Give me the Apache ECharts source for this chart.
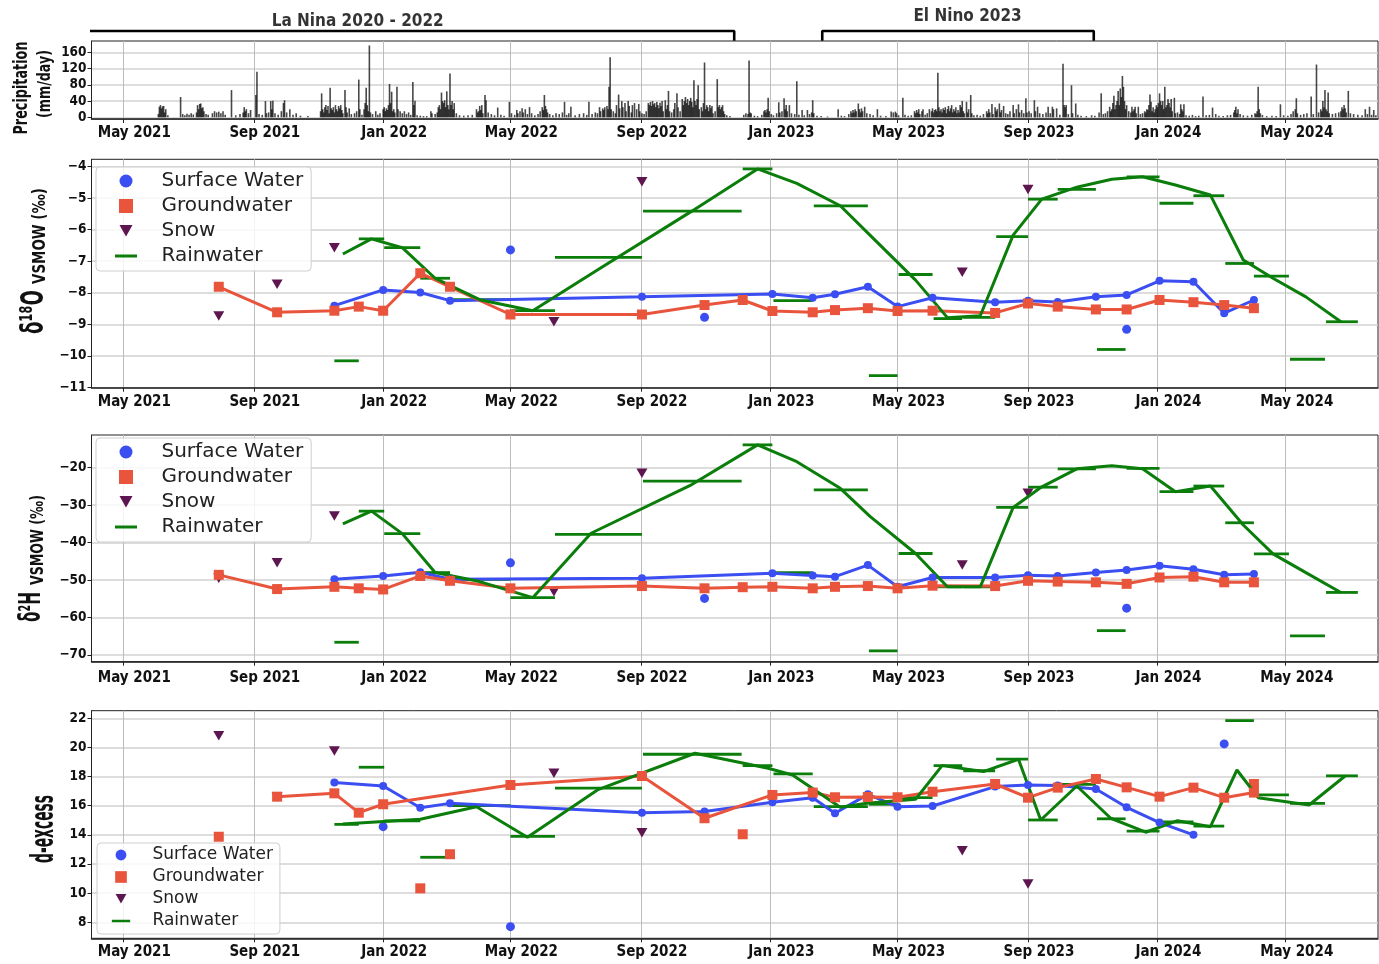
<!DOCTYPE html>
<html>
<head>
<meta charset="utf-8">
<title>Precipitation and water isotopes 2021-2024</title>
<script src="https://cdn.jsdelivr.net/npm/echarts@6/dist/echarts.min.js"></script>
<style>
  html, body { margin: 0; padding: 0; background: #ffffff; }
  #chart { width: 1379px; height: 964px; }
</style>
</head>
<body>
<div id="chart"></div>
<script>
// ---------------------------------------------------------------- axes
const xStart = '2021-04-01';
const xEnd = '2024-07-27';
const xTicks = ['2021-05-01', '2021-09-01', '2022-01-01', '2022-05-01', '2022-09-01',
                '2023-01-01', '2023-05-01', '2023-09-01', '2024-01-01', '2024-05-01'];
const precipTicks = [0, 40, 80, 120, 160];
const d18Ticks = [-11, -10, -9, -8, -7, -6, -5, -4];
const d2Ticks = [-70, -60, -50, -40, -30, -20];
const dxTicks = [8, 10, 12, 14, 16, 18, 20, 22];

// ---------------------------------------------------------------- ENSO periods
const laNinaPeriod = ['2020-09-01', '2022-11-28'];
const laNinaLabel = ['2021-12-08', 'La Nina 2020 - 2022'];
const elNinoPeriod = ['2023-02-19', '2023-11-02'];
const elNinoLabel = ['2023-07-06', 'El Nino 2023'];

// ---------------------------------------------------------------- daily precipitation (mm/day)
const precip = [
  ['2021-06-03', 8], ['2021-06-04', 26], ['2021-06-05', 30], ['2021-06-06', 22], ['2021-06-07', 27], ['2021-06-08', 28],
  ['2021-06-09', 12], ['2021-06-10', 20], ['2021-06-12', 5], ['2021-06-24', 50], ['2021-06-26', 8], ['2021-06-28', 5],
  ['2021-06-30', 9], ['2021-07-02', 6], ['2021-07-04', 10], ['2021-07-06', 7], ['2021-07-09', 12], ['2021-07-10', 30],
  ['2021-07-11', 20], ['2021-07-12', 33], ['2021-07-13', 34], ['2021-07-14', 22], ['2021-07-15', 25], ['2021-07-16', 15],
  ['2021-07-18', 8], ['2021-07-20', 6], ['2021-07-24', 10], ['2021-07-26', 15], ['2021-07-28', 12], ['2021-07-30', 14],
  ['2021-08-01', 10], ['2021-08-03', 15], ['2021-08-05', 6], ['2021-08-11', 67], ['2021-08-15', 5], ['2021-08-19', 8],
  ['2021-08-22', 12], ['2021-08-23', 25], ['2021-08-24', 15], ['2021-08-25', 20], ['2021-08-27', 10], ['2021-08-29', 18],
  ['2021-09-03', 55], ['2021-09-04', 112], ['2021-09-06', 8], ['2021-09-09', 6], ['2021-09-12', 40], ['2021-09-13', 10],
  ['2021-09-15', 12], ['2021-09-17', 40], ['2021-09-18', 20], ['2021-09-19', 41], ['2021-09-21', 10], ['2021-09-24', 6],
  ['2021-09-27', 15], ['2021-09-29', 35], ['2021-09-30', 42], ['2021-10-02', 12], ['2021-10-05', 20], ['2021-10-08', 6],
  ['2021-10-11', 10], ['2021-10-15', 4], ['2021-10-22', 3], ['2021-11-03', 15], ['2021-11-04', 59], ['2021-11-05', 20],
  ['2021-11-06', 12], ['2021-11-07', 25], ['2021-11-08', 30], ['2021-11-09', 18], ['2021-11-10', 28], ['2021-11-11', 10],
  ['2021-11-12', 73], ['2021-11-13', 22], ['2021-11-14', 18], ['2021-11-15', 25], ['2021-11-16', 12], ['2021-11-17', 30],
  ['2021-11-18', 20], ['2021-11-19', 15], ['2021-11-20', 28], ['2021-11-21', 22], ['2021-11-22', 30], ['2021-11-23', 18],
  ['2021-11-24', 10], ['2021-11-26', 67], ['2021-11-27', 25], ['2021-11-28', 12], ['2021-11-30', 22], ['2021-12-02', 8],
  ['2021-12-05', 10], ['2021-12-07', 15], ['2021-12-09', 93], ['2021-12-10', 20], ['2021-12-12', 6], ['2021-12-14', 20],
  ['2021-12-15', 35], ['2021-12-16', 73], ['2021-12-17', 30], ['2021-12-18', 15], ['2021-12-19', 177], ['2021-12-20', 12],
  ['2021-12-22', 8], ['2021-12-25', 15], ['2021-12-27', 6], ['2021-12-29', 10],
  ['2022-01-01', 20], ['2022-01-02', 25], ['2022-01-03', 15], ['2022-01-04', 22], ['2022-01-05', 18], ['2022-01-06', 30],
  ['2022-01-07', 82], ['2022-01-08', 35], ['2022-01-09', 63], ['2022-01-10', 15], ['2022-01-11', 20], ['2022-01-12', 12],
  ['2022-01-14', 75], ['2022-01-15', 20], ['2022-01-17', 15], ['2022-01-19', 10], ['2022-01-21', 15], ['2022-01-23', 8],
  ['2022-01-25', 12], ['2022-01-27', 6], ['2022-01-29', 87], ['2022-01-30', 30], ['2022-01-31', 41], ['2022-02-02', 5],
  ['2022-02-05', 4], ['2022-02-08', 3], ['2022-02-11', 3], ['2022-02-15', 15], ['2022-02-16', 10], ['2022-02-19', 8],
  ['2022-02-21', 12], ['2022-02-22', 25], ['2022-02-23', 30], ['2022-02-24', 20], ['2022-02-25', 61], ['2022-02-26', 40],
  ['2022-02-27', 35], ['2022-02-28', 42], ['2022-03-01', 25], ['2022-03-02', 64], ['2022-03-03', 30], ['2022-03-04', 20],
  ['2022-03-05', 108], ['2022-03-06', 30], ['2022-03-07', 40], ['2022-03-08', 20], ['2022-03-09', 35], ['2022-03-11', 10],
  ['2022-03-14', 5], ['2022-03-18', 4], ['2022-03-22', 5], ['2022-03-26', 6], ['2022-03-30', 20], ['2022-03-31', 12],
  ['2022-04-01', 15], ['2022-04-02', 28], ['2022-04-03', 18], ['2022-04-04', 30], ['2022-04-05', 10], ['2022-04-07', 55],
  ['2022-04-08', 42], ['2022-04-10', 12], ['2022-04-13', 8], ['2022-04-16', 5], ['2022-04-19', 24], ['2022-04-22', 6],
  ['2022-04-25', 4], ['2022-04-30', 38], ['2022-05-02', 10], ['2022-05-05', 6], ['2022-05-07', 18], ['2022-05-08', 10],
  ['2022-05-10', 15], ['2022-05-12', 22], ['2022-05-13', 12], ['2022-05-15', 20], ['2022-05-17', 8], ['2022-05-19', 25],
  ['2022-05-21', 10], ['2022-05-24', 5], ['2022-05-27', 8], ['2022-05-29', 15], ['2022-05-31', 25], ['2022-06-01', 18],
  ['2022-06-02', 55], ['2022-06-03', 28], ['2022-06-04', 20], ['2022-06-05', 12], ['2022-06-07', 8], ['2022-06-10', 5],
  ['2022-06-13', 10], ['2022-06-16', 8], ['2022-06-19', 12], ['2022-06-21', 38], ['2022-06-23', 6], ['2022-06-25', 10],
  ['2022-06-27', 26], ['2022-07-01', 5], ['2022-07-05', 8], ['2022-07-09', 10], ['2022-07-12', 6], ['2022-07-14', 38],
  ['2022-07-17', 8], ['2022-07-20', 12], ['2022-07-22', 10], ['2022-07-24', 25], ['2022-07-25', 15], ['2022-07-27', 22],
  ['2022-07-28', 18], ['2022-07-29', 25], ['2022-07-31', 28], ['2022-08-01', 20], ['2022-08-02', 75], ['2022-08-03', 148],
  ['2022-08-04', 20], ['2022-08-06', 15], ['2022-08-08', 10], ['2022-08-09', 30], ['2022-08-11', 56], ['2022-08-12', 22],
  ['2022-08-14', 40], ['2022-08-15', 25], ['2022-08-17', 35], ['2022-08-18', 15], ['2022-08-20', 40], ['2022-08-21', 28],
  ['2022-08-23', 12], ['2022-08-24', 30], ['2022-08-26', 35], ['2022-08-28', 20], ['2022-08-30', 33], ['2022-08-31', 15],
  ['2022-09-02', 10], ['2022-09-04', 8], ['2022-09-06', 15], ['2022-09-08', 35], ['2022-09-09', 30], ['2022-09-10', 38],
  ['2022-09-11', 28], ['2022-09-12', 40], ['2022-09-13', 32], ['2022-09-14', 35], ['2022-09-15', 25], ['2022-09-16', 38],
  ['2022-09-17', 30], ['2022-09-18', 22], ['2022-09-19', 36], ['2022-09-20', 28], ['2022-09-21', 40], ['2022-09-22', 15],
  ['2022-09-24', 42], ['2022-09-25', 20], ['2022-09-26', 30], ['2022-09-27', 65], ['2022-09-28', 15], ['2022-09-30', 12],
  ['2022-10-02', 20], ['2022-10-03', 35], ['2022-10-05', 59], ['2022-10-06', 25], ['2022-10-08', 15], ['2022-10-10', 45],
  ['2022-10-11', 30], ['2022-10-12', 40], ['2022-10-13', 50], ['2022-10-14', 35], ['2022-10-15', 45], ['2022-10-16', 30],
  ['2022-10-17', 40], ['2022-10-18', 48], ['2022-10-19', 38], ['2022-10-20', 25], ['2022-10-21', 91], ['2022-10-22', 40],
  ['2022-10-23', 30], ['2022-10-24', 45], ['2022-10-25', 79], ['2022-10-26', 20], ['2022-10-28', 25], ['2022-10-29', 15],
  ['2022-10-30', 35], ['2022-10-31', 135], ['2022-11-01', 20], ['2022-11-02', 30], ['2022-11-03', 25], ['2022-11-04', 15],
  ['2022-11-05', 30], ['2022-11-06', 22], ['2022-11-07', 28], ['2022-11-08', 10], ['2022-11-10', 15], ['2022-11-12', 94],
  ['2022-11-13', 25], ['2022-11-14', 30], ['2022-11-15', 20], ['2022-11-16', 25], ['2022-11-17', 30], ['2022-11-18', 15],
  ['2022-11-19', 8], ['2022-11-21', 5], ['2022-11-24', 3], ['2022-12-07', 6], ['2022-12-09', 10], ['2022-12-11', 8],
  ['2022-12-12', 140], ['2022-12-13', 12], ['2022-12-14', 10], ['2022-12-17', 4], ['2022-12-20', 3], ['2022-12-24', 6],
  ['2022-12-26', 15], ['2022-12-27', 18], ['2022-12-28', 12], ['2022-12-29', 20], ['2022-12-30', 48], ['2022-12-31', 15],
  ['2023-01-02', 8], ['2023-01-04', 5], ['2023-01-07', 10], ['2023-01-09', 37], ['2023-01-10', 12], ['2023-01-12', 15],
  ['2023-01-14', 47], ['2023-01-15', 20], ['2023-01-16', 30], ['2023-01-17', 15], ['2023-01-19', 30], ['2023-01-21', 10],
  ['2023-01-24', 8], ['2023-01-26', 89], ['2023-01-28', 6], ['2023-01-31', 18], ['2023-02-02', 5], ['2023-02-05', 18],
  ['2023-02-07', 8], ['2023-02-09', 12], ['2023-02-10', 42], ['2023-02-11', 10], ['2023-02-14', 4], ['2023-02-18', 3],
  ['2023-02-24', 2], ['2023-03-06', 20], ['2023-03-09', 4], ['2023-03-12', 3], ['2023-03-16', 8], ['2023-03-18', 15],
  ['2023-03-19', 10], ['2023-03-20', 18], ['2023-03-21', 12], ['2023-03-22', 20], ['2023-03-23', 15], ['2023-03-25', 34],
  ['2023-03-26', 20], ['2023-03-27', 12], ['2023-03-28', 22], ['2023-03-29', 15], ['2023-03-31', 26], ['2023-04-02', 10],
  ['2023-04-05', 8], ['2023-04-08', 5], ['2023-04-12', 20], ['2023-04-15', 4], ['2023-04-20', 3], ['2023-04-25', 14],
  ['2023-04-27', 12], ['2023-04-29', 14], ['2023-04-30', 10], ['2023-05-02', 5], ['2023-05-06', 48], ['2023-05-08', 6],
  ['2023-05-11', 4], ['2023-05-14', 5], ['2023-05-17', 15], ['2023-05-18', 10], ['2023-05-19', 18], ['2023-05-20', 12],
  ['2023-05-21', 20], ['2023-05-22', 8], ['2023-05-24', 15], ['2023-05-25', 20], ['2023-05-27', 6], ['2023-05-29', 10],
  ['2023-05-31', 20], ['2023-06-02', 15], ['2023-06-03', 22], ['2023-06-04', 12], ['2023-06-05', 18], ['2023-06-06', 20],
  ['2023-06-07', 15], ['2023-06-08', 110], ['2023-06-09', 25], ['2023-06-10', 15], ['2023-06-11', 20], ['2023-06-12', 12],
  ['2023-06-13', 22], ['2023-06-14', 18], ['2023-06-15', 25], ['2023-06-16', 10], ['2023-06-17', 20], ['2023-06-18', 28],
  ['2023-06-19', 15], ['2023-06-20', 22], ['2023-06-21', 30], ['2023-06-22', 12], ['2023-06-23', 20], ['2023-06-24', 15],
  ['2023-06-25', 25], ['2023-06-26', 10], ['2023-06-27', 18], ['2023-06-28', 12], ['2023-06-29', 30], ['2023-06-30', 25],
  ['2023-07-01', 40], ['2023-07-02', 15], ['2023-07-03', 10], ['2023-07-05', 38], ['2023-07-06', 12], ['2023-07-07', 20],
  ['2023-07-09', 55], ['2023-07-10', 10], ['2023-07-12', 5], ['2023-07-15', 6], ['2023-07-18', 4], ['2023-07-21', 8],
  ['2023-07-24', 15], ['2023-07-25', 10], ['2023-07-26', 20], ['2023-07-27', 12], ['2023-07-29', 33], ['2023-07-30', 8],
  ['2023-08-01', 25], ['2023-08-02', 15], ['2023-08-03', 20], ['2023-08-05', 34], ['2023-08-06', 12], ['2023-08-07', 18],
  ['2023-08-09', 28], ['2023-08-11', 10], ['2023-08-13', 8], ['2023-08-15', 15], ['2023-08-18', 30], ['2023-08-19', 10],
  ['2023-08-21', 20], ['2023-08-23', 32], ['2023-08-24', 12], ['2023-08-26', 18], ['2023-08-28', 10], ['2023-08-30', 47],
  ['2023-08-31', 12], ['2023-09-02', 15], ['2023-09-04', 10], ['2023-09-07', 42], ['2023-09-08', 15], ['2023-09-10', 26],
  ['2023-09-12', 10], ['2023-09-15', 8], ['2023-09-18', 12], ['2023-09-20', 26], ['2023-09-22', 10], ['2023-09-24', 26],
  ['2023-09-25', 20], ['2023-09-28', 22], ['2023-10-01', 6], ['2023-10-04', 132], ['2023-10-05', 30], ['2023-10-06', 25],
  ['2023-10-07', 30], ['2023-10-09', 8], ['2023-10-12', 79], ['2023-10-13', 10], ['2023-10-16', 34], ['2023-10-18', 6],
  ['2023-10-21', 4], ['2023-10-26', 3], ['2023-10-31', 5], ['2023-11-03', 4], ['2023-11-07', 12], ['2023-11-09', 59],
  ['2023-11-11', 8], ['2023-11-13', 10], ['2023-11-15', 15], ['2023-11-17', 26], ['2023-11-18', 15], ['2023-11-19', 20],
  ['2023-11-20', 35], ['2023-11-21', 53], ['2023-11-22', 20], ['2023-11-23', 30], ['2023-11-24', 40], ['2023-11-25', 65],
  ['2023-11-26', 30], ['2023-11-27', 71], ['2023-11-28', 50], ['2023-11-29', 102], ['2023-11-30', 75], ['2023-12-01', 40],
  ['2023-12-02', 20], ['2023-12-03', 30], ['2023-12-05', 15], ['2023-12-07', 12], ['2023-12-08', 26], ['2023-12-09', 15],
  ['2023-12-10', 20], ['2023-12-11', 26], ['2023-12-12', 10], ['2023-12-14', 26], ['2023-12-16', 8], ['2023-12-18', 10],
  ['2023-12-20', 15], ['2023-12-21', 12], ['2023-12-22', 20], ['2023-12-23', 18], ['2023-12-24', 30], ['2023-12-25', 56],
  ['2023-12-26', 38], ['2023-12-27', 15], ['2023-12-28', 25], ['2023-12-29', 12], ['2023-12-30', 20], ['2023-12-31', 30],
  ['2024-01-01', 25], ['2024-01-02', 35], ['2024-01-03', 59], ['2024-01-04', 40], ['2024-01-05', 30], ['2024-01-06', 40],
  ['2024-01-07', 20], ['2024-01-08', 75], ['2024-01-09', 25], ['2024-01-10', 30], ['2024-01-11', 45], ['2024-01-12', 35],
  ['2024-01-13', 25], ['2024-01-14', 45], ['2024-01-15', 15], ['2024-01-17', 48], ['2024-01-18', 10], ['2024-01-20', 12],
  ['2024-01-22', 8], ['2024-01-23', 32], ['2024-01-24', 20], ['2024-01-25', 15], ['2024-01-26', 32], ['2024-01-28', 5],
  ['2024-01-31', 4], ['2024-02-03', 6], ['2024-02-06', 3], ['2024-02-09', 4], ['2024-02-13', 51], ['2024-02-16', 5],
  ['2024-02-19', 6], ['2024-02-22', 24], ['2024-02-25', 8], ['2024-02-28', 4], ['2024-03-03', 3], ['2024-03-07', 5],
  ['2024-03-10', 6], ['2024-03-13', 12], ['2024-03-14', 18], ['2024-03-15', 26], ['2024-03-16', 10], ['2024-03-17', 20],
  ['2024-03-19', 8], ['2024-03-22', 5], ['2024-03-26', 4], ['2024-03-30', 6], ['2024-04-02', 10], ['2024-04-03', 8],
  ['2024-04-04', 15], ['2024-04-05', 75], ['2024-04-06', 20], ['2024-04-07', 10], ['2024-04-09', 6], ['2024-04-13', 3],
  ['2024-04-18', 4], ['2024-04-22', 3], ['2024-04-26', 32], ['2024-04-29', 5], ['2024-05-03', 4], ['2024-05-06', 8],
  ['2024-05-08', 15], ['2024-05-10', 20], ['2024-05-11', 47], ['2024-05-12', 10], ['2024-05-15', 6], ['2024-05-18', 8],
  ['2024-05-21', 10], ['2024-05-25', 51], ['2024-05-27', 8], ['2024-05-30', 130], ['2024-06-01', 12], ['2024-06-03', 20],
  ['2024-06-04', 15], ['2024-06-05', 40], ['2024-06-06', 25], ['2024-06-07', 67], ['2024-06-08', 20], ['2024-06-09', 15],
  ['2024-06-10', 61], ['2024-06-11', 10], ['2024-06-14', 8], ['2024-06-17', 10], ['2024-06-20', 12], ['2024-06-22', 15],
  ['2024-06-23', 25], ['2024-06-24', 20], ['2024-06-25', 30], ['2024-06-26', 22], ['2024-06-27', 12], ['2024-06-29', 65],
  ['2024-07-01', 10], ['2024-07-04', 8], ['2024-07-08', 6], ['2024-07-12', 5], ['2024-07-15', 20], ['2024-07-17', 8],
  ['2024-07-19', 26], ['2024-07-21', 6], ['2024-07-23', 18], ['2024-07-25', 5]
];

// ---------------------------------------------------------------- δ18O (‰ VSMOW)
const sw18Line = [['2021-11-16', -8.41], ['2022-01-01', -7.91], ['2022-02-05', -7.99], ['2022-03-05', -8.25],
  ['2022-09-02', -8.13], ['2023-01-03', -8.04], ['2023-02-10', -8.16], ['2023-03-03', -8.05], ['2023-04-03', -7.81],
  ['2023-05-01', -8.44], ['2023-06-03', -8.16], ['2023-08-01', -8.30], ['2023-09-01', -8.25], ['2023-09-29', -8.29],
  ['2023-11-04', -8.13], ['2023-12-03', -8.07], ['2024-01-03', -7.62], ['2024-02-04', -7.65], ['2024-03-04', -8.65],
  ['2024-04-01', -8.23]];
const sw18Other = [['2022-05-01', -6.64], ['2022-10-31', -8.78], ['2023-12-03', -9.16]];
const gw18Line = [['2021-07-30', -7.81], ['2021-09-23', -8.62], ['2021-11-16', -8.57], ['2021-12-09', -8.44],
  ['2022-01-01', -8.57], ['2022-02-05', -7.38], ['2022-03-05', -7.81], ['2022-05-01', -8.69], ['2022-09-02', -8.69],
  ['2022-10-31', -8.39], ['2022-12-06', -8.23], ['2023-01-03', -8.58], ['2023-02-10', -8.62], ['2023-03-03', -8.55],
  ['2023-04-03', -8.49], ['2023-05-01', -8.58], ['2023-06-03', -8.57], ['2023-08-01', -8.64], ['2023-09-01', -8.34],
  ['2023-09-29', -8.44], ['2023-11-04', -8.53], ['2023-12-03', -8.53], ['2024-01-03', -8.23], ['2024-02-04', -8.30],
  ['2024-03-04', -8.39], ['2024-04-01', -8.49]];
const gw18Other = [];
const snow18 = [['2021-07-30', -8.74], ['2021-09-23', -7.73], ['2021-11-16', -6.57], ['2022-06-11', -8.92],
  ['2022-09-02', -4.48], ['2023-07-01', -7.35], ['2023-09-01', -4.72]];

// ---------------------------------------------------------------- δ2H (‰ VSMOW)
const sw2Line = [['2021-11-16', -49.8], ['2022-01-01', -48.9], ['2022-02-05', -47.9], ['2022-03-05', -49.8],
  ['2022-09-02', -49.5], ['2023-01-03', -48.2], ['2023-02-10', -48.8], ['2023-03-03', -49.1], ['2023-04-03', -46.0],
  ['2023-05-01', -51.8], ['2023-06-03', -49.3], ['2023-08-01', -49.3], ['2023-09-01', -48.7], ['2023-09-29', -48.9],
  ['2023-11-04', -48.0], ['2023-12-03', -47.3], ['2024-01-03', -46.2], ['2024-02-04', -47.1], ['2024-03-04', -48.6],
  ['2024-04-01', -48.4]];
const sw2Other = [['2022-05-01', -45.4], ['2022-10-31', -54.9], ['2023-12-03', -57.5]];
const gw2Line = [['2021-07-30', -48.6], ['2021-09-23', -52.4], ['2021-11-16', -51.8], ['2021-12-09', -52.2],
  ['2022-01-01', -52.5], ['2022-02-05', -48.9], ['2022-03-05', -50.2], ['2022-05-01', -52.2], ['2022-09-02', -51.6],
  ['2022-10-31', -52.2], ['2022-12-06', -51.9], ['2023-01-03', -51.8], ['2023-02-10', -52.2], ['2023-03-03', -51.8],
  ['2023-04-03', -51.6], ['2023-05-01', -52.2], ['2023-06-03', -51.5], ['2023-08-01', -51.6], ['2023-09-01', -50.2],
  ['2023-09-29', -50.4], ['2023-11-04', -50.6], ['2023-12-03', -51.0], ['2024-01-03', -49.3], ['2024-02-04', -49.1],
  ['2024-03-04', -50.6], ['2024-04-01', -50.6]];
const gw2Other = [];
const snow2 = [['2021-07-30', -49.5], ['2021-09-23', -45.4], ['2021-11-16', -32.9], ['2022-06-11', -53.1],
  ['2022-09-02', -21.5], ['2023-07-01', -46.0], ['2023-09-01', -26.8]];

// ---------------------------------------------------------------- d-excess (‰)
const swDLine = [['2021-11-16', 17.6], ['2022-01-01', 17.35], ['2022-02-05', 15.86], ['2022-03-05', 16.16],
  ['2022-09-02', 15.52], ['2022-10-31', 15.6], ['2023-01-03', 16.23], ['2023-02-10', 16.55], ['2023-03-03', 15.48],
  ['2023-04-03', 16.78], ['2023-05-01', 15.93], ['2023-06-03', 15.98], ['2023-08-01', 17.31], ['2023-09-01', 17.42],
  ['2023-09-29', 17.38], ['2023-11-04', 17.15], ['2023-12-03', 15.89], ['2024-01-03', 14.84], ['2024-02-04', 14.0]];
const swDOther = [['2022-01-01', 14.56], ['2022-05-01', 7.7], ['2024-03-04', 20.24]];
const gwDLine = [['2021-09-23', 16.62], ['2021-11-16', 16.85], ['2021-12-09', 15.52], ['2022-01-01', 16.1],
  ['2022-05-01', 17.42], ['2022-09-02', 18.04], ['2022-10-31', 15.14], ['2023-01-03', 16.74], ['2023-02-10', 16.9],
  ['2023-03-03', 16.58], ['2023-04-03', 16.6], ['2023-05-01', 16.58], ['2023-06-03', 16.96], ['2023-08-01', 17.49],
  ['2023-09-01', 16.55], ['2023-09-29', 17.24], ['2023-11-04', 17.83], ['2023-12-03', 17.26], ['2024-01-03', 16.62],
  ['2024-02-04', 17.24], ['2024-03-04', 16.55], ['2024-04-01', 16.9]];
const gwDOther = [['2021-07-30', 13.87], ['2022-02-05', 10.33], ['2022-03-05', 12.67], ['2022-12-06', 14.04],
  ['2024-04-01', 17.49]];
const snowD = [['2021-07-30', 20.8], ['2021-09-23', 16.6], ['2021-11-16', 19.76], ['2022-06-11', 18.22],
  ['2022-09-02', 14.15], ['2023-07-01', 12.91], ['2023-09-01', 10.63]];

// ---------------------------------------------------------------- rainwater collection periods
const rainPeriods = [
  ['2021-11-16', '2021-12-09'], ['2021-12-09', '2022-01-02'], ['2022-01-02', '2022-02-05'], ['2022-02-05', '2022-03-05'],
  ['2022-03-05', '2022-05-01'], ['2022-05-01', '2022-06-12'], ['2022-06-12', '2022-09-02'], ['2022-09-03', '2022-12-05'],
  ['2022-12-06', '2023-01-03'], ['2023-01-04', '2023-02-10'], ['2023-02-11', '2023-04-03'], ['2023-04-04', '2023-05-01'],
  ['2023-05-02', '2023-06-03'], ['2023-06-04', '2023-07-01'], ['2023-07-02', '2023-08-01'], ['2023-08-02', '2023-09-01'],
  ['2023-09-01', '2023-09-29'], ['2023-09-29', '2023-11-04'], ['2023-11-05', '2023-12-02'], ['2023-12-03', '2024-01-03'],
  ['2024-01-03', '2024-02-04'], ['2024-02-04', '2024-03-04'], ['2024-03-05', '2024-04-01'], ['2024-04-01', '2024-05-04'],
  ['2024-05-05', '2024-06-07'], ['2024-06-08', '2024-07-08']
];
const rain18 = [-10.16, -6.29, -6.57, -7.54, -8.22, -8.57, -6.88, -5.41, -4.07, -8.25, -5.24, -10.63, -7.42,
  -8.82, -8.78, -6.22, -5.03, -4.72, -9.80, -4.32, -5.16, -4.92, -7.07, -7.47, -10.11, -8.92];
const rain2 = [-66.6, -31.6, -37.6, -48.0, -49.8, -54.7, -37.8, -23.6, -13.9, -48.0, -25.9, -68.9, -42.9,
  -51.8, -51.8, -30.6, -25.2, -20.3, -63.5, -20.2, -26.4, -24.9, -34.7, -43.0, -64.9, -53.3];
const rainD = [14.72, 18.64, 14.96, 12.46, 16.0, 13.9, 17.2, 19.53, 18.75, 18.18, 15.93, 16.1, 16.55,
  18.75, 18.4, 19.19, 15.02, 17.46, 15.1, 14.26, 14.88, 14.6, 21.84, 16.75, 16.16, 18.05];

// rainwater trend line
const rainLine18 = [['2021-11-24', -6.77], ['2021-12-21', -6.29], ['2022-01-19', -6.57], ['2022-02-19', -7.54],
  ['2022-04-02', -8.22], ['2022-05-22', -8.57], ['2022-07-22', -7.28], ['2022-10-19', -5.41], ['2022-12-20', -4.07],
  ['2023-01-26', -4.53], ['2023-03-08', -5.24], ['2023-04-05', -6.17], ['2023-05-18', -7.60], ['2023-06-17', -8.79],
  ['2023-07-18', -8.73], ['2023-08-18', -6.17], ['2023-09-14', -5.03], ['2023-10-17', -4.65], ['2023-11-19', -4.40],
  ['2023-12-18', -4.32], ['2024-01-18', -4.58], ['2024-02-20', -4.90], ['2024-03-22', -6.96], ['2024-04-19', -7.54],
  ['2024-05-20', -8.13], ['2024-06-22', -8.92]];
const rainLine2 = [['2021-11-24', -35.0], ['2021-12-21', -31.6], ['2022-01-19', -37.6], ['2022-02-19', -48.0],
  ['2022-04-02', -50.4], ['2022-05-22', -54.7], ['2022-07-16', -37.5], ['2022-10-19', -24.5], ['2022-12-20', -13.9],
  ['2023-01-26', -18.4], ['2023-03-08', -25.5], ['2023-04-05', -33.0], ['2023-05-18', -42.9], ['2023-06-17', -51.8],
  ['2023-07-18', -51.8], ['2023-08-18', -30.6], ['2023-09-14', -25.1], ['2023-10-17', -20.3], ['2023-11-19', -19.5],
  ['2023-12-18', -20.3], ['2024-01-18', -26.4], ['2024-02-20', -24.9], ['2024-03-22', -35.3], ['2024-04-19', -43.0],
  ['2024-05-20', -48.0], ['2024-06-22', -53.3]];
const rainLineD = [['2021-11-24', 14.74], ['2022-02-05', 15.07], ['2022-03-30', 15.93], ['2022-05-17', 13.83],
  ['2022-07-22', 17.08], ['2022-10-22', 19.6], ['2022-12-30', 18.57], ['2023-01-22', 18.11], ['2023-03-08', 15.89],
  ['2023-04-02', 16.17], ['2023-05-18', 16.44], ['2023-06-12', 18.75], ['2023-07-21', 18.34], ['2023-08-23', 19.19],
  ['2023-09-13', 15.02], ['2023-10-17', 17.35], ['2023-11-18', 15.14], ['2023-12-21', 14.18], ['2024-01-20', 14.97],
  ['2024-02-20', 14.56], ['2024-03-16', 18.45], ['2024-04-05', 16.55], ['2024-05-23', 16.05], ['2024-06-26', 18.04]];

// ---------------------------------------------------------------- styling
const C = {
  'Surface Water': '#3b4ef2',
  'Groundwater': '#e8543c',
  'Snow': '#5e1650',
  'Rainwater': '#0a7d0a'
};
const TICK_FONT = "'DejaVu Sans Condensed', 'Liberation Sans Narrow', Roboto, sans-serif";
const TITLE_FONT = "'DejaVu Sans', sans-serif";
const LEGEND_FONT = "'DejaVu Sans', sans-serif";
const MONTHS = ['Jan', 'Feb', 'Mar', 'Apr', 'May', 'Jun', 'Jul', 'Aug', 'Sep', 'Oct', 'Nov', 'Dec'];
const DOWN_TRIANGLE = 'path://M0,0L10,0L5,8.7Z';

// legend glyphs, drawn inside a 24x24 box so that every icon keeps its own size
const LEGEND_ICONS = {
  'Surface Water': 'path://M0,0M24,24M5.5,12a6.5,6.5 0 1,0 13,0a6.5,6.5 0 1,0 -13,0Z',
  'Groundwater': 'path://M0,0M24,24M5,5H19V19H5Z',
  'Snow': 'path://M0,0M24,24M5.5,6H18.5L12,17.5Z',
  'Rainwater': 'path://M0,0M24,24M1,10.5H23V13.5H1Z'
};
const NAMES = ['Surface Water', 'Groundwater', 'Snow', 'Rainwater'];

const ts = s => { const p = s.split('-').map(Number); return new Date(p[0], p[1] - 1, p[2]).getTime(); };
const xy = arr => arr.map(d => [ts(d[0]), d[1]]);
const fmtDate = v => { const d = new Date(v); return MONTHS[d.getMonth()] + ' ' + d.getFullYear(); };
const fmtNum = v => String(v).replace('-', '\u2212');
const xTickTs = xTicks.map(ts);

// ---------------------------------------------------------------- layout
const LEFT = 91.5, WIDTH = 1286.5;
const panels = [
  { top: 28, height: 12.7 },        // ENSO brackets
  { top: 41, height: 78 },          // precipitation
  { top: 159.3, height: 228.4 },    // δ18O
  { top: 435, height: 226.7 },      // δ2H
  { top: 710.7, height: 227.6 }     // d-excess
];
const yRanges = [
  { min: 0, max: 1.3, ticks: null },
  { min: -4.2, max: 188, ticks: precipTicks },
  { min: -11.013, max: -3.765, ticks: d18Ticks },
  { min: -71.79, max: -11.27, ticks: d2Ticks },
  { min: 6.9, max: 22.52, ticks: dxTicks }
];
const labelMargins = [0, 7, 7, 9, 6];

const grid = panels.map((p, i) => ({
  left: LEFT, width: WIDTH, top: p.top, height: p.height,
  show: i > 0, borderColor: '#222', borderWidth: 1, backgroundColor: 'transparent'
}));

// dates are plotted as millisecond values on a linear axis
const xAxis = panels.map((p, i) => ({
  type: 'value', gridIndex: i, min: ts(xStart), max: ts(xEnd), show: i > 0, scale: true,
  axisLine: { show: true, onZero: false, lineStyle: { color: '#222', width: 1.5 } },
  axisTick: { show: true, customValues: xTickTs, length: 4, lineStyle: { color: '#222', width: 1 } },
  axisLabel: {
    customValues: xTickTs, formatter: fmtDate, margin: labelMargins[i],
    fontFamily: TICK_FONT, fontWeight: 'bold', fontSize: 15, color: '#111',
    padding: [0, 0, 0, 22], hideOverlap: false
  },
  splitLine: { show: true, lineStyle: { color: '#bdbdbd', width: 1 } }
}));

const yAxis = yRanges.map((r, i) => ({
  type: 'value', gridIndex: i, min: r.min, max: r.max, show: i > 0,
  axisLine: { show: true, onZero: false, lineStyle: { color: '#222', width: 1 } },
  axisTick: { show: true, customValues: r.ticks || [0], length: 4, lineStyle: { color: '#222' } },
  axisLabel: {
    customValues: r.ticks || [0], formatter: fmtNum, margin: 5,
    fontFamily: TICK_FONT, fontWeight: 'bold', fontSize: 13.5, color: '#111'
  },
  splitLine: { show: true, lineStyle: { color: '#d2d2d2', width: 1.6 } }
}));

// ---------------------------------------------------------------- series
const series = [];

// ENSO brackets and their captions
series.push({
  type: 'line', xAxisIndex: 0, yAxisIndex: 0, symbol: 'none', silent: true, clip: true,
  data: [[ts(laNinaPeriod[0]), 1], [ts(laNinaPeriod[1]), 1], [ts(laNinaPeriod[1]), 0]],
  lineStyle: { color: '#000', width: 2.6 }
});
series.push({
  type: 'line', xAxisIndex: 0, yAxisIndex: 0, symbol: 'none', silent: true, clip: true,
  data: [[ts(elNinoPeriod[0]), 0], [ts(elNinoPeriod[0]), 1], [ts(elNinoPeriod[1]), 1], [ts(elNinoPeriod[1]), 0]],
  lineStyle: { color: '#000', width: 2.6 }
});
[[laNinaLabel, 1], [elNinoLabel, 6]].forEach(([lab, dist]) => {
  series.push({
    type: 'scatter', xAxisIndex: 0, yAxisIndex: 0, symbolSize: 0, silent: true, clip: false,
    data: [[ts(lab[0]), 1]],
    label: {
      show: true, position: 'top', distance: dist, formatter: lab[1],
      fontFamily: TICK_FONT, fontWeight: 'bold', fontSize: 17, color: '#000'
    }
  });
});

// precipitation bars
series.push({
  type: 'bar', xAxisIndex: 1, yAxisIndex: 1, barWidth: 1.6, silent: true,
  data: xy(precip),
  itemStyle: { color: 'rgba(0,0,0,0.72)' }
});

function isotopePanel(ax, d) {
  const rainBars = rainPeriods.map((pr, k) => [ts(pr[0]), ts(pr[1]), d.rainVals[k]]);
  return [
    {
      name: 'Surface Water', type: 'line', xAxisIndex: ax, yAxisIndex: ax, data: xy(d.swLine),
      symbol: 'circle', symbolSize: 8, lineStyle: { width: 3, color: C['Surface Water'] },
      itemStyle: { color: C['Surface Water'], opacity: 1 }
    },
    {
      name: 'Surface Water', type: 'scatter', xAxisIndex: ax, yAxisIndex: ax, data: xy(d.swOther),
      symbol: 'circle', symbolSize: 9, itemStyle: { color: C['Surface Water'], opacity: 1 }
    },
    {
      name: 'Groundwater', type: 'line', xAxisIndex: ax, yAxisIndex: ax, data: xy(d.gwLine),
      symbol: 'rect', symbolSize: 10, lineStyle: { width: 3, color: C['Groundwater'] },
      itemStyle: { color: C['Groundwater'], opacity: 1 }
    },
    {
      name: 'Groundwater', type: 'scatter', xAxisIndex: ax, yAxisIndex: ax, data: xy(d.gwOther),
      symbol: 'rect', symbolSize: 10, itemStyle: { color: C['Groundwater'], opacity: 1 }
    },
    {
      name: 'Snow', type: 'scatter', xAxisIndex: ax, yAxisIndex: ax, data: xy(d.snow),
      symbol: DOWN_TRIANGLE, symbolSize: [11, 9.5], itemStyle: { color: C['Snow'], opacity: 1 }
    },
    {
      name: 'Rainwater', type: 'custom', xAxisIndex: ax, yAxisIndex: ax, data: rainBars,
      encode: { x: [0, 1], y: 2 },
      itemStyle: { color: C['Rainwater'] },
      renderItem: (params, api) => {
        const a = api.coord([api.value(0), api.value(2)]);
        const b = api.coord([api.value(1), api.value(2)]);
        return {
          type: 'line',
          shape: { x1: a[0], y1: a[1], x2: b[0], y2: b[1] },
          style: { stroke: C['Rainwater'], lineWidth: 2.8 }
        };
      }
    },
    {
      name: 'Rainwater', type: 'line', xAxisIndex: ax, yAxisIndex: ax, data: xy(d.rainLine),
      symbol: 'none', lineStyle: { width: 3, color: C['Rainwater'] }, itemStyle: { color: C['Rainwater'] }
    }
  ];
}

series.push(...isotopePanel(2, { swLine: sw18Line, swOther: sw18Other, gwLine: gw18Line, gwOther: gw18Other,
  snow: snow18, rainVals: rain18, rainLine: rainLine18 }));
series.push(...isotopePanel(3, { swLine: sw2Line, swOther: sw2Other, gwLine: gw2Line, gwOther: gw2Other,
  snow: snow2, rainVals: rain2, rainLine: rainLine2 }));
series.push(...isotopePanel(4, { swLine: swDLine, swOther: swDOther, gwLine: gwDLine, gwOther: gwDOther,
  snow: snowD, rainVals: rainD, rainLine: rainLineD }));

// ---------------------------------------------------------------- legends
const legendItems = NAMES.map(n => ({
  name: n, icon: LEGEND_ICONS[n], itemStyle: { color: C[n], borderWidth: 0, opacity: 1 }
}));
function legendAt(left, top, iconBox, rowH, gap, fontSize, pad) {
  return {
    orient: 'vertical', left: left, top: top, selectedMode: false,
    itemWidth: iconBox, itemHeight: rowH, itemGap: gap, padding: pad,
    symbolKeepAspect: true,
    backgroundColor: 'rgba(255,255,255,0.82)', borderColor: '#cfcfcf', borderWidth: 1, borderRadius: 4,
    textStyle: { fontFamily: LEGEND_FONT, fontSize: fontSize, color: '#222' },
    data: legendItems
  };
}
const legend = [
  legendAt(96, 167, 61, 24, 1, 20, [2, 8, 3, 18]),
  legendAt(96, 438, 61, 24, 1, 20, [2, 8, 3, 18]),
  legendAt(97, 843, 53, 20, 2, 17, [2, 7, 3, 14])
];

// ---------------------------------------------------------------- rotated axis titles
const measureCtx = document.createElement('canvas').getContext('2d');
function rotatedTitle(text, cx, cy, size, length) {
  const font = 'bold ' + size + 'px ' + TITLE_FONT;
  measureCtx.font = font;
  const w = measureCtx.measureText(text).width;
  return {
    type: 'text', x: cx, y: cy, rotation: Math.PI / 2, scaleX: length / w, silent: true,
    style: {
      text: text, font: font, fill: '#111',
      align: 'center', verticalAlign: 'middle', textAlign: 'center', textVerticalAlign: 'middle'
    }
  };
}
const graphic = [
  rotatedTitle('Precipitation', 22, 88, 19, 93),
  rotatedTitle('(mm/day)', 45, 84, 18, 68),
  rotatedTitle('VSMOW (\u2030)', 40, 236, 18, 96),
  rotatedTitle('\u03b4\u00b9\u2078O', 35, 312, 32, 44),
  rotatedTitle('VSMOW (\u2030)', 38, 540, 18, 90),
  rotatedTitle('\u03b4\u00b2H', 32, 607, 30, 30),
  rotatedTitle('d-excess', 45, 829, 32, 68)
];

const chart = echarts.init(document.getElementById('chart'), null, { renderer: 'canvas' });
chart.setOption({
  animation: false,
  backgroundColor: '#ffffff',
  grid, xAxis, yAxis, legend, graphic, series
});
</script>
</body>
</html>
